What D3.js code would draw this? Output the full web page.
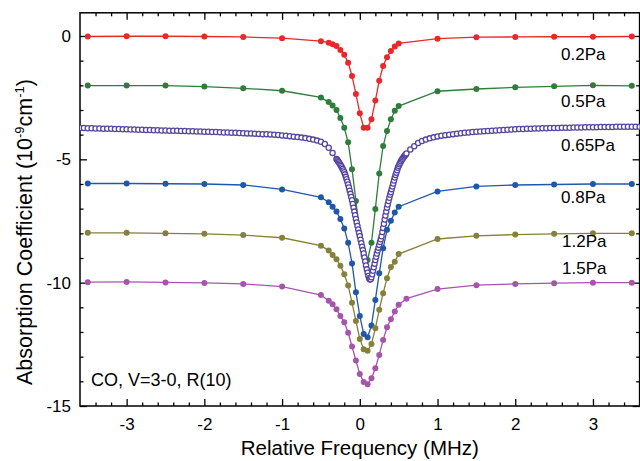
<!DOCTYPE html>
<html><head><meta charset="utf-8">
<script src="https://cdn.jsdelivr.net/npm/d3@7"></script>
<style>body{margin:0;background:#fff}svg{display:block}text{font-family:"Liberation Sans",Arial,sans-serif}</style>
</head><body><svg id="c" width="640" height="461"></svg>
<script>
// ---- data ----
const freq = [-3.5,-3,-2.5,-2,-1.5,-1,-0.5,-0.4,-0.35,-0.3,-0.25,-0.2,-0.15,-0.1,-0.05,0,0.05,0.1,0.15,0.2,0.25,0.3,0.35,0.4,0.45,0.5,1,1.5,2,2.5,3,3.5];
const freq15 = [-3.5,-3,-2.5,-2,-1.5,-1,-0.5,-0.4,-0.35,-0.3,-0.25,-0.2,-0.15,-0.1,-0.05,0,0.05,0.1,0.15,0.2,0.25,0.3,0.35,0.4,0.45,0.5,0.6,1,1.5,2,2.5,3,3.5];
const abs02 = [-0.02,-0.01,-0.01,-0.02,-0.04,-0.09,-0.21,-0.27,-0.34,-0.41,-0.57,-0.76,-1.08,-1.62,-2.35,-3.13,-3.72,-3.72,-3.38,-2.62,-1.81,-1.22,-0.86,-0.61,-0.43,-0.30,-0.11,-0.05,-0.04,-0.03,-0.03,-0.02];
const abs05 = [-2.01,-2.01,-2.01,-2.05,-2.12,-2.22,-2.49,-2.68,-2.82,-3.00,-3.32,-3.72,-4.31,-5.40,-6.69,-8.08,-8.92,-9.08,-8.38,-7.01,-5.57,-4.46,-3.85,-3.38,-3.03,-2.84,-2.24,-2.15,-2.08,-2.04,-2.00,-2.02];
const abs08 = [-5.98,-5.98,-5.99,-6.00,-6.04,-6.22,-6.54,-6.74,-6.92,-7.12,-7.42,-7.80,-8.38,-9.22,-10.39,-11.35,-12.08,-12.21,-11.74,-10.70,-9.62,-8.61,-7.86,-7.49,-7.16,-6.92,-6.30,-6.10,-6.04,-6.02,-6.00,-6.00];
const abs12 = [-7.98,-7.98,-8.00,-8.02,-8.07,-8.18,-8.50,-8.70,-8.88,-9.05,-9.31,-9.66,-10.12,-10.81,-11.55,-12.28,-12.70,-12.76,-12.49,-11.85,-11.10,-10.43,-9.82,-9.37,-9.15,-8.84,-8.23,-8.10,-8.05,-8.02,-8.00,-8.00];
const abs15 = [-9.98,-9.97,-9.99,-10.01,-10.05,-10.16,-10.50,-10.73,-10.88,-11.08,-11.35,-11.60,-12.03,-12.59,-13.16,-13.70,-14.03,-14.12,-13.88,-13.47,-12.93,-12.32,-11.81,-11.48,-11.17,-10.90,-10.65,-10.26,-10.10,-10.05,-10.02,-10.00,-10.00];
// 0.65 Pa: densely sampled open circles [frequency, absorption]
const abs065 = [
[-3.6,-3.73],[-3.55,-3.73],[-3.5,-3.74],[-3.45,-3.74],[-3.4,-3.75],[-3.35,-3.75],[-3.3,-3.76],[-3.25,-3.76],[-3.2,-3.76],[-3.15,-3.77],
[-3.1,-3.77],[-3.05,-3.78],[-3,-3.78],[-2.95,-3.79],[-2.9,-3.79],[-2.85,-3.80],[-2.8,-3.80],[-2.75,-3.81],[-2.7,-3.81],[-2.65,-3.82],
[-2.6,-3.82],[-2.55,-3.83],[-2.5,-3.83],[-2.45,-3.84],[-2.4,-3.84],[-2.35,-3.84],[-2.3,-3.85],[-2.25,-3.85],[-2.2,-3.86],[-2.15,-3.86],
[-2.1,-3.87],[-2.05,-3.87],[-2,-3.88],[-1.95,-3.88],[-1.9,-3.89],[-1.85,-3.89],[-1.8,-3.90],[-1.75,-3.91],[-1.7,-3.91],[-1.65,-3.92],
[-1.6,-3.92],[-1.55,-3.93],[-1.5,-3.94],[-1.45,-3.95],[-1.4,-3.95],[-1.35,-3.96],[-1.3,-3.97],[-1.25,-3.98],[-1.2,-3.98],[-1.15,-3.99],
[-1.1,-4.00],[-1.05,-4.01],[-1,-4.03],[-0.95,-4.04],[-0.9,-4.06],[-0.85,-4.08],[-0.8,-4.10],[-0.75,-4.12],[-0.7,-4.14],[-0.65,-4.17],
[-0.6,-4.20],[-0.55,-4.24],[-0.5,-4.29],[-0.45,-4.38],[-0.4,-4.53],[-0.35,-4.74],
[-0.30,-4.99],[-0.29,-5.03],[-0.28,-5.08],[-0.27,-5.12],[-0.26,-5.17],[-0.25,-5.22],[-0.24,-5.27],[-0.23,-5.33],[-0.22,-5.39],[-0.21,-5.45],
[-0.20,-5.52],[-0.19,-5.61],[-0.18,-5.71],[-0.17,-5.81],[-0.16,-5.91],[-0.15,-6.02],[-0.14,-6.14],[-0.13,-6.27],[-0.12,-6.40],[-0.11,-6.53],
[-0.10,-6.66],[-0.09,-6.81],[-0.08,-6.96],[-0.07,-7.12],[-0.06,-7.27],[-0.05,-7.42],[-0.04,-7.56],[-0.03,-7.70],[-0.02,-7.84],[-0.01,-7.98],
[0.00,-8.12],[0.01,-8.26],[0.02,-8.40],[0.03,-8.54],[0.04,-8.68],[0.05,-8.82],[0.06,-8.98],[0.07,-9.14],[0.08,-9.30],[0.09,-9.46],
[0.10,-9.60],[0.11,-9.73],[0.12,-9.82],[0.13,-9.87],[0.14,-9.86],[0.15,-9.78],[0.16,-9.66],[0.17,-9.52],[0.18,-9.38],[0.19,-9.23],
[0.20,-9.08],[0.21,-8.95],[0.22,-8.82],[0.23,-8.70],[0.24,-8.58],[0.25,-8.47],[0.26,-8.35],[0.27,-8.24],[0.28,-8.12],[0.29,-7.95],
[0.30,-7.78],[0.31,-7.61],[0.32,-7.44],[0.33,-7.28],[0.34,-7.12],[0.35,-6.96],[0.36,-6.83],[0.37,-6.69],[0.38,-6.56],[0.39,-6.44],
[0.40,-6.33],[0.41,-6.21],[0.42,-6.10],[0.43,-5.98],[0.44,-5.86],[0.45,-5.74],[0.46,-5.64],[0.47,-5.54],[0.48,-5.44],[0.49,-5.34],
[0.50,-5.27],[0.51,-5.20],[0.52,-5.14],[0.53,-5.08],[0.54,-5.02],[0.55,-4.98],[0.56,-4.93],[0.57,-4.89],[0.58,-4.84],[0.59,-4.80],
[0.60,-4.76],
[0.65,-4.60],[0.7,-4.47],[0.75,-4.34],[0.8,-4.26],[0.85,-4.20],[0.9,-4.15],[0.95,-4.11],[1,-4.07],[1.05,-4.04],[1.1,-4.02],
[1.15,-4.00],[1.2,-3.98],[1.25,-3.96],[1.3,-3.94],[1.35,-3.92],[1.4,-3.91],[1.45,-3.89],[1.5,-3.88],[1.55,-3.87],[1.6,-3.86],
[1.65,-3.85],[1.7,-3.84],[1.75,-3.83],[1.8,-3.82],[1.85,-3.81],[1.9,-3.80],[1.95,-3.79],[2,-3.78],[2.05,-3.77],[2.1,-3.77],
[2.15,-3.76],[2.2,-3.76],[2.25,-3.75],[2.3,-3.75],[2.35,-3.74],[2.4,-3.74],[2.45,-3.73],[2.5,-3.73],[2.55,-3.73],[2.6,-3.72],
[2.65,-3.72],[2.7,-3.72],[2.75,-3.71],[2.8,-3.71],[2.85,-3.71],[2.9,-3.70],[2.95,-3.70],[3,-3.70],[3.05,-3.70],[3.1,-3.69],
[3.15,-3.69],[3.2,-3.69],[3.25,-3.69],[3.3,-3.68],[3.35,-3.68],[3.4,-3.68],[3.45,-3.68],[3.5,-3.68],[3.55,-3.68],[3.6,-3.68]
];
const seriesNames = ["0.2Pa","0.5Pa","0.65Pa","0.8Pa","1.2Pa","1.5Pa"];
const seriesColors = ["#e8282b","#2f7d3b","#5646a0","#2057a8","#85803a","#a655ad"];
const xMajorTicks = [-3,-2,-1,0,1,2,3];
const yMajorTicks = [0,-5,-10,-15];
const noteText = "CO, V=3-0, R(10)";

// ---- layout ----
const svg = d3.select("#c");
const L = 80, R = 639.6, T = 12.8, B = 406;
const x = d3.scaleLinear().domain([-3.6, 3.6]).range([L, R]);
const y = d3.scaleLinear().domain([-15, 0.94]).range([B, T]);
const FONT = '"Liberation Sans", Arial, sans-serif';

svg.append("defs").append("clipPath").attr("id","plot")
  .append("rect").attr("x",L).attr("y",T).attr("width",R-L).attr("height",B-T);

const xMinor = d3.range(-18, 19).filter(i => i % 5 !== 0).map(i => i / 5).filter(v => v > -3.59 && v < 3.59);
const yMinor = d3.range(-15, 1).filter(v => v % 5 !== 0);

function styleAxis(g, showLabels) {
  g.select(".domain").remove();
  g.attr("font-family", FONT).attr("font-size", 17);
  g.selectAll(".tick line").attr("stroke", "#000").attr("stroke-width", 1.3);
  g.selectAll(".tick text").attr("fill", "#000");
  if (!showLabels) g.selectAll(".tick text").remove();
}
const fmt = d => String(d);
// bottom
svg.append("g").attr("transform", `translate(0,${B})`)
  .call(d3.axisBottom(x).tickValues(xMinor).tickSize(-3.5)).call(g => styleAxis(g, false));
svg.append("g").attr("transform", `translate(0,${B})`)
  .call(d3.axisBottom(x).tickValues(xMajorTicks).tickSize(-7).tickPadding(12).tickFormat(fmt)).call(g => styleAxis(g, true));
// top
svg.append("g").attr("transform", `translate(0,${T})`)
  .call(d3.axisTop(x).tickValues(xMinor).tickSize(-3.5)).call(g => styleAxis(g, false));
svg.append("g").attr("transform", `translate(0,${T})`)
  .call(d3.axisTop(x).tickValues(xMajorTicks).tickSize(-7)).call(g => styleAxis(g, false));
// left
svg.append("g").attr("transform", `translate(${L},0)`)
  .call(d3.axisLeft(y).tickValues(yMinor).tickSize(-3.5)).call(g => styleAxis(g, false));
svg.append("g").attr("transform", `translate(${L},0)`)
  .call(d3.axisLeft(y).tickValues(yMajorTicks).tickSize(-7).tickPadding(9).tickFormat(fmt)).call(g => styleAxis(g, true));
// right
svg.append("g").attr("transform", `translate(${R},0)`)
  .call(d3.axisRight(y).tickValues(yMinor).tickSize(-3.5)).call(g => styleAxis(g, false));
svg.append("g").attr("transform", `translate(${R},0)`)
  .call(d3.axisRight(y).tickValues(yMajorTicks).tickSize(-7)).call(g => styleAxis(g, false));

// frame
svg.append("rect").attr("x", L).attr("y", T).attr("width", R - L).attr("height", B - T)
  .attr("fill", "none").attr("stroke", "#000").attr("stroke-width", 1.5);

// ---- series ----
const zipS = (xs, ys) => xs.map((v, i) => [v, ys[i]]);
const series = [
  {data: zipS(freq, abs02), open: false},
  {data: zipS(freq, abs05), open: false},
  {data: abs065, open: true},
  {data: zipS(freq, abs08), open: false},
  {data: zipS(freq, abs12), open: false},
  {data: zipS(freq15, abs15), open: false}
];
const line = d3.line().x(d => x(d[0])).y(d => y(d[1]));
const plot = svg.append("g").attr("clip-path", "url(#plot)");
series.forEach((s, i) => {
  const c = seriesColors[i];
  const g = plot.append("g");
  g.append("path").datum(s.data).attr("d", line).attr("fill", "none")
    .attr("stroke", c).attr("stroke-width", 1.3);
  g.selectAll("circle").data(s.data).join("circle")
    .attr("cx", d => x(d[0])).attr("cy", d => y(d[1]))
    .attr("r", s.open ? 2.6 : 3)
    .attr("fill", s.open ? "#fff" : c)
    .attr("stroke", s.open ? c : "none")
    .attr("stroke-width", s.open ? 1.3 : 0);
});

// ---- labels ----
const labelPos = [[561, 60], [561, 107], [561, 151], [561, 203], [562, 247], [562, 274]];
seriesNames.forEach((n, i) => {
  svg.append("text").attr("x", labelPos[i][0]).attr("y", labelPos[i][1])
    .attr("font-size", 17).attr("fill", "#000").text(n);
});
svg.append("text").attr("x", 91).attr("y", 386).attr("font-size", 18).attr("fill", "#000").text(noteText);

svg.append("text").attr("x", (L + R) / 2).attr("y", 455).attr("text-anchor", "middle")
  .attr("font-size", 20.5).attr("fill", "#000").text("Relative Frequency (MHz)");

const yt = svg.append("text").attr("transform", "translate(32,232) rotate(-90)")
  .attr("text-anchor", "middle").attr("font-size", 21.5).attr("fill", "#000");
yt.append("tspan").text("Absorption Coefficient (10");
yt.append("tspan").attr("font-size", 13).attr("dy", -8.5).text("-9");
yt.append("tspan").attr("dy", 8.5).text("cm");
yt.append("tspan").attr("font-size", 13).attr("dy", -8.5).text("-1");
yt.append("tspan").attr("dy", 8.5).text(")");
</script></body></html>
